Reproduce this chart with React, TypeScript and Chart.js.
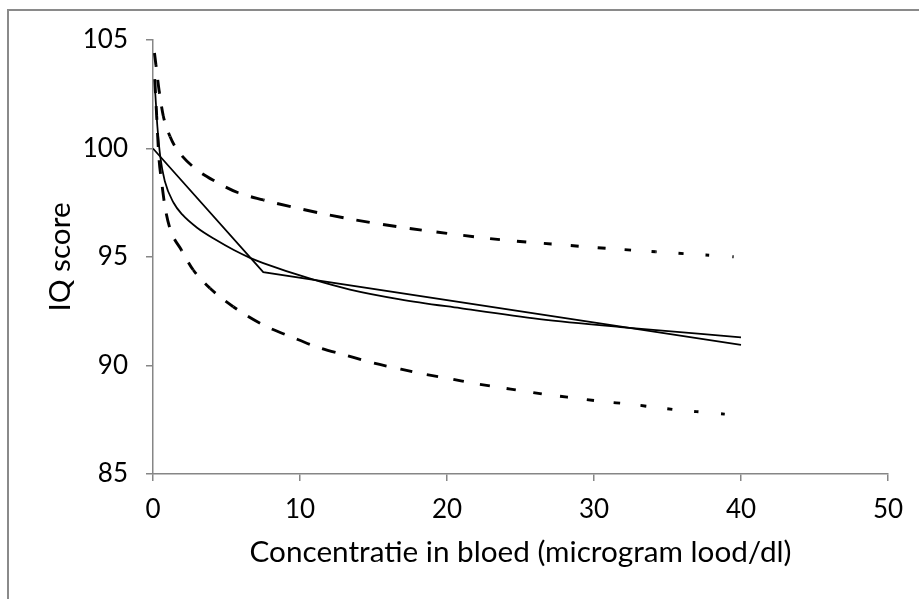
import React, { useEffect, useRef } from "react";
import { Chart, registerables } from "chart.js";

Chart.register(...registerables);

// ---- data ----
const xTickValues = [0, 10, 20, 30, 40, 50];
const yTickValues = [85, 90, 95, 100, 105];

const xTitle = "Concentratie in bloed (microgram lood/dl)";
const yTitle = "IQ score";

// piecewise linear (solid)
const segmentedX = [0, 7.5, 40];
const segmentedY = [100, 94.3, 90.95];

// log-type curve (solid)
const curveX = [0.15, 0.3, 0.5, 0.8, 1.4, 2.0, 3.0, 4.3, 5.5, 6.6, 7.5, 10.7, 13.4, 16.8, 20.9, 26.3, 31.8, 40];
const curveY = [102.6, 101.0, 99.6, 98.5, 97.5, 96.95, 96.35, 95.78, 95.32, 94.96, 94.72, 94.0, 93.5, 93.05, 92.64, 92.14, 91.77, 91.3];

// upper band (dashed)
const upperX = [0.1, 0.2, 0.43, 0.7, 1.16, 1.61, 2.74, 4.33, 5.8, 7.5, 9.55, 13.2, 16.6, 20, 23.6, 27.1, 30.8, 34.2, 37.6, 39.5];
const upperY = [104.4, 103.85, 102.6, 101.5, 100.55, 99.98, 99.15, 98.45, 97.96, 97.63, 97.29, 96.78, 96.4, 96.09, 95.8, 95.6, 95.4, 95.24, 95.09, 95.01];

// lower band (dashed)
const lowerX = [0.12, 0.25, 0.4, 0.6, 0.82, 1.16, 1.95, 2.74, 3.88, 5.46, 7.5, 9.55, 11.1, 13.1, 14.9, 16.6, 18.4, 20.3, 21.8, 23.7, 25.5, 27, 28.8, 30.7, 32.3, 34.2, 36.1, 37.6, 39.5];
const lowerY = [103.2, 101.5, 99.6, 98.4, 97.3, 96.3, 95.3, 94.4, 93.56, 92.71, 91.87, 91.28, 90.87, 90.48, 90.13, 89.87, 89.61, 89.38, 89.18, 88.98, 88.79, 88.64, 88.49, 88.33, 88.23, 88.07, 87.92, 87.84, 87.72];

// ---- styles ----
const FONT = "Lato, 'Open Sans', sans-serif";
const AXIS_COLOR = "#868686";
const DASH_PERIOD = 27;

const toPoints = (xs: number[], ys: number[]) => xs.map((x, i) => ({ x, y: ys[i] }));

function dashLength(x: number): number {
  if (x <= 12) return 14;
  return Math.max(3, 14 - (x - 12) * 0.4);
}

function cumulativeLength(chart: any, dsIndex: number, upto: number): number {
  const pts = chart.getDatasetMeta(dsIndex).data;
  let s = 0;
  for (let i = 0; i < upto && i + 1 < pts.length; i++) {
    s += Math.hypot(pts[i + 1].x - pts[i].x, pts[i + 1].y - pts[i].y);
  }
  return s;
}

const dashedSegment = {
  borderDash: (ctx: any) => {
    const data = ctx.chart.data.datasets[ctx.datasetIndex].data;
    const d = dashLength(data[ctx.p0DataIndex].x);
    return [d, DASH_PERIOD - d];
  },
  borderDashOffset: (ctx: any) =>
    cumulativeLength(ctx.chart, ctx.datasetIndex, ctx.p0DataIndex) % DASH_PERIOD,
};

export default function App() {
  const canvasRef = useRef<HTMLCanvasElement>(null);

  useEffect(() => {
    const canvas = canvasRef.current;
    if (!canvas) return;

    const solid = {
      borderColor: "#000",
      borderWidth: 1.75,
      pointRadius: 0,
      fill: false,
    };
    const dashed = {
      borderColor: "#000",
      borderWidth: 2.9,
      pointRadius: 0,
      fill: false,
      cubicInterpolationMode: "monotone" as const,
      borderCapStyle: "butt" as const,
      segment: dashedSegment,
    };

    const chart = new Chart(canvas, {
      type: "line",
      data: {
        datasets: [
          { ...dashed, label: "upper", data: toPoints(upperX, upperY) },
          { ...dashed, label: "lower", data: toPoints(lowerX, lowerY) },
          { ...solid, label: "curve", data: toPoints(curveX, curveY), cubicInterpolationMode: "monotone" },
          { ...solid, label: "segmented", data: toPoints(segmentedX, segmentedY), tension: 0 },
        ],
      },
      options: {
        animation: false,
        responsive: false,
        devicePixelRatio: 1,
        parsing: false as any,
        layout: { padding: { left: 0, top: 40, right: 31, bottom: 0 } },
        plugins: {
          legend: { display: false },
          tooltip: { enabled: false },
        },
        scales: {
          x: {
            type: "linear",
            min: 0,
            max: 50,
            afterBuildTicks: (s: any) => {
              s.ticks = xTickValues.map((v) => ({ value: v }));
            },
            afterFit: (s: any) => {
              s.height = 125;
            },
            ticks: {
              color: "#000",
              font: { family: FONT, size: 26 },
              padding: 13,
              maxRotation: 0,
              autoSkip: false,
            },
            grid: {
              drawOnChartArea: false,
              drawTicks: true,
              tickLength: 7,
              color: AXIS_COLOR,
              lineWidth: 1.5,
            },
            border: { color: AXIS_COLOR, width: 1.5 },
            title: {
              display: true,
              text: xTitle,
              color: "#000",
              font: { family: FONT, size: 29.7 },
              padding: { top: 0, bottom: 29 },
            },
          },
          y: {
            type: "linear",
            min: 85,
            max: 105,
            afterBuildTicks: (s: any) => {
              s.ticks = yTickValues.map((v) => ({ value: v }));
            },
            afterFit: (s: any) => {
              s.width = 153;
            },
            ticks: {
              color: "#000",
              font: { family: FONT, size: 26 },
              padding: 18,
              autoSkip: false,
            },
            grid: {
              drawOnChartArea: false,
              drawTicks: true,
              tickLength: 7,
              color: AXIS_COLOR,
              lineWidth: 1.5,
            },
            border: { color: AXIS_COLOR, width: 1.5 },
            title: {
              display: true,
              text: yTitle,
              color: "#000",
              font: { family: FONT, size: 29.7 },
              padding: { top: 43, bottom: 0 },
            },
          },
        },
      },
    });

    return () => chart.destroy();
  }, []);

  return (
    <>
      <div
        style={{
          position: "fixed",
          left: 7,
          top: 9,
          width: 1000,
          height: 700,
          border: "2px solid #8a8a8a",
          background: "#fff",
        }}
      />
      <canvas
        ref={canvasRef}
        width={919}
        height={599}
        style={{ position: "fixed", left: 0, top: 0, width: 919, height: 599 }}
      />
    </>
  );
}
